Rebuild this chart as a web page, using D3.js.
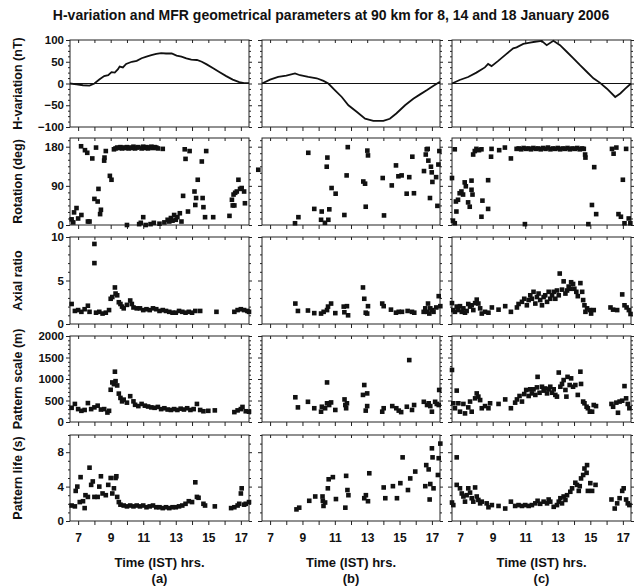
<!DOCTYPE html>
<meta charset="utf-8">
<style>
body { margin: 0; background: #fff; }
svg text { font-family: "Liberation Sans", Arial, sans-serif; font-weight: bold; fill: #111; }
.frame { fill: none; stroke: #222; stroke-width: 1; }
.axis path { display: none; }
.axis line { stroke: #222; }
.axis text { font-size: 11.5px; font-weight: bold; font-family: "Liberation Sans", Arial, sans-serif; }
</style>
<body>
<svg width="644" height="587"></svg>
<script src="https://d3js.org/d3.v7.min.js"></script>
<script>

var title = "H-variation and MFR geometrical parameters at 90 km for 8, 14 and 18 January 2006";
var panelNames = ["(a)", "(b)", "(c)"];
var timeTicks = [7, 9, 11, 13, 15, 17];
var hourTicks = [7, 8, 9, 10, 11, 12, 13, 14, 15, 16, 17];

// H-variation (nT) vs time (IST hrs)
var hVarA = [[6.5,0],[6.9,-2],[7.3,-4],[7.7,-5],[8.0,0],[8.3,9],[8.6,17],[8.85,19],[9.05,26],[9.25,25],[9.45,33],[9.55,39],[9.75,37],[9.95,45],[10.3,50],[10.6,52],[10.9,58],[11.2,62],[11.5,65],[11.8,68],[12.1,70],[12.4,69],[12.75,69],[13.05,64],[13.35,62],[13.65,58],[13.95,55],[14.3,54],[14.6,50],[14.9,44],[15.3,35],[15.7,26],[16.1,17],[16.5,9],[16.9,3],[17.2,1],[17.5,1]];
var hVarB = [[6.5,0],[7.0,9],[7.5,15],[8.0,18],[8.54,23],[8.85,19],[9.36,15],[9.88,12],[10.3,6],[10.6,0],[11.0,-15],[11.43,-31],[11.84,-50],[12.35,-65],[12.87,-81],[13.38,-86],[14.0,-86],[14.4,-81],[14.8,-69],[15.34,-50],[15.85,-35],[16.27,-25],[16.7,-15],[17.1,-5],[17.5,4]];
var hVarC = [[6.5,0],[6.97,8],[7.49,15],[8.0,25],[8.52,37],[8.72,45],[8.93,40],[9.34,52],[9.85,68],[10.26,81],[10.47,83],[10.88,91],[11.29,94],[11.6,96],[12.01,98],[12.32,88],[12.73,98],[13.14,88],[13.55,73],[13.96,58],[14.37,42],[14.78,27],[15.19,12],[15.6,1.5],[16.02,-12],[16.53,-31],[16.84,-23],[17.15,-12],[17.5,0]];

// Rotation (deg)
var rotA = [[6.6,13],[6.7,6],[6.75,29],[6.9,39],[7.0,15],[7.2,23],[7.18,181],[7.42,172],[7.56,166],[7.6,8],[7.7,8],[7.87,153],[8.0,60],[8.1,178],[8.2,54],[8.25,83],[8.35,25],[8.4,35],[8.6,148],[8.62,155],[8.7,170],[8.95,113],[9.05,104],[9.2,174],[9.3,176],[9.4,178],[9.5,177],[9.6,179],[9.7,176],[9.8,178],[9.9,177],[10.0,0],[10.0,179],[10.1,176],[10.2,178],[10.3,177],[10.4,180],[10.5,176],[10.6,178],[10.7,179],[10.75,2],[10.85,5],[10.9,176],[11.0,18],[11.0,180],[11.1,177],[11.15,0],[11.2,179],[11.3,176],[11.4,178],[11.45,2],[11.5,180],[11.6,177],[11.65,5],[11.7,179],[11.8,178],[11.9,176],[12.0,3],[12.2,175],[12.3,6],[12.5,12],[12.6,8],[12.7,16],[12.8,10],[12.9,23],[13.0,12],[13.1,18],[13.25,27],[13.35,8],[13.45,67],[13.55,174],[13.6,152],[13.75,31],[13.85,170],[14.15,77],[14.2,46],[14.25,62],[14.35,104],[14.6,146],[14.65,62],[14.7,41],[14.8,18],[14.87,170],[15.3,18],[16.3,21],[16.45,58],[16.5,45],[16.55,70],[16.6,45],[16.65,74],[16.75,77],[16.85,104],[16.95,83],[17.05,85],[17.2,77],[17.25,50]];
var rotB = [[6.27,127],[8.54,4],[8.75,18],[9.36,166],[9.73,37],[10.19,31],[10.15,12],[10.39,5],[10.6,12],[10.66,36],[10.5,134],[10.54,155],[10.8,85],[11.05,72],[11.59,23],[11.73,114],[11.8,179],[12.76,100],[12.87,95],[12.91,42],[13.01,171],[13.05,160],[13.96,108],[14.04,22],[14.52,91],[14.78,137],[14.93,112],[15.13,114],[15.44,72],[15.6,110],[15.79,157],[15.89,73],[16.51,124],[16.62,162],[16.68,174],[16.74,175],[16.78,148],[16.88,62],[16.94,134],[16.99,121],[17.03,99],[17.26,110],[17.34,44],[17.4,139],[17.46,170]];
var rotC = [[6.5,108],[6.56,10],[6.67,4],[6.67,174],[6.74,54],[6.77,31],[6.87,58],[6.97,73],[7.08,77],[7.18,70],[7.28,98],[7.35,89],[7.49,52],[7.59,42],[7.7,81],[7.76,70],[7.7,102],[7.8,162],[7.9,170],[8.0,175],[8.16,172],[8.31,174],[8.31,19],[8.37,56],[8.72,37],[8.72,103],[8.93,175],[8.9,157],[9.4,172],[9.75,178],[10.12,153],[10.47,175],[10.6,176],[10.75,174],[10.9,177],[10.98,2],[11.05,175],[11.2,176],[11.35,174],[11.5,177],[11.65,175],[11.8,176],[11.95,174],[12.1,177],[12.25,175],[12.4,178],[12.55,174],[12.7,176],[12.85,175],[13.0,177],[13.15,174],[13.3,176],[13.45,175],[13.6,177],[13.75,174],[13.9,176],[14.05,175],[14.2,177],[14.35,174],[14.5,176],[14.6,175],[14.68,162],[14.7,155],[14.88,2],[15.1,46],[15.24,133],[15.36,25],[16.33,175],[16.43,164],[16.6,178],[16.73,25],[16.88,19],[17.0,104],[17.1,4],[17.2,175],[17.36,15],[17.46,4]];

// Axial ratio
var axA = [[6.6,2.3],[6.8,1.5],[7.0,1.6],[7.2,1.4],[7.4,1.7],[7.6,2.1],[7.7,1.4],[8.0,9.2],[8.0,7.0],[8.1,1.3],[8.3,1.4],[8.5,1.2],[8.7,1.3],[8.9,1.6],[9.0,2.9],[9.1,3.1],[9.26,4.2],[9.3,3.5],[9.4,3.3],[9.5,2.5],[9.6,2.3],[9.7,2.0],[9.8,1.8],[10.0,2.2],[10.2,2.7],[10.3,2.3],[10.4,1.9],[10.6,1.8],[10.8,1.8],[11.0,1.6],[11.2,1.7],[11.4,1.6],[11.6,1.8],[11.8,1.7],[12.0,1.5],[12.2,1.6],[12.4,1.5],[12.6,1.4],[12.8,1.3],[13.0,1.3],[13.2,1.5],[13.4,1.4],[13.6,1.3],[13.8,1.4],[14.0,1.3],[14.2,1.5],[14.5,1.5],[15.5,1.4],[16.6,1.4],[16.8,1.6],[17.0,1.7],[17.2,1.6],[17.4,1.5],[17.5,1.4]];
var axB = [[8.56,2.35],[8.72,1.5],[9.34,1.55],[9.73,1.25],[10.15,1.2],[10.31,1.4],[10.52,1.6],[10.58,2.0],[10.77,2.35],[11.03,1.25],[11.55,2.0],[11.59,1.35],[11.75,2.05],[11.82,1.0],[12.74,4.2],[12.82,2.9],[12.91,1.3],[13.0,1.2],[13.05,2.05],[13.93,2.35],[14.02,2.05],[14.47,1.65],[14.78,1.3],[14.95,1.4],[15.15,1.4],[15.5,1.5],[15.77,1.4],[15.91,1.3],[16.49,1.4],[16.59,1.8],[16.7,1.4],[16.76,2.35],[16.84,1.2],[16.9,1.8],[17.0,1.6],[17.1,1.4],[17.27,1.9],[17.42,3.2],[17.52,2.05]];
var axC = [[6.5,2.4],[6.58,1.6],[6.68,1.4],[6.79,2.0],[6.89,1.6],[6.99,2.05],[7.1,1.4],[7.2,1.8],[7.3,1.3],[7.4,1.5],[7.5,2.3],[7.61,2.0],[7.71,2.15],[7.81,1.6],[7.92,2.4],[8.02,2.8],[8.12,2.35],[8.23,1.8],[8.33,1.2],[8.53,1.4],[8.74,1.3],[8.95,1.9],[9.36,1.65],[9.77,2.05],[10.12,1.4],[10.49,1.9],[10.59,2.3],[10.8,2.55],[10.94,2.9],[11.1,2.15],[11.21,2.75],[11.31,3.3],[11.41,2.9],[11.51,3.7],[11.62,2.35],[11.72,3.1],[11.82,3.5],[11.92,2.75],[12.03,2.15],[12.13,3.1],[12.23,3.3],[12.34,2.55],[12.44,3.7],[12.54,2.9],[12.65,3.3],[12.75,3.7],[12.85,2.9],[12.95,3.85],[13.06,3.3],[13.12,5.8],[13.26,3.95],[13.36,4.9],[13.47,3.5],[13.57,3.85],[13.67,4.3],[13.77,4.05],[13.82,4.8],[13.94,4.6],[14.02,4.05],[14.14,3.7],[14.23,3.2],[14.39,4.7],[14.5,3.7],[14.56,2.75],[14.64,2.15],[14.7,1.4],[14.8,1.8],[14.97,1.6],[15.05,1.2],[15.21,1.6],[16.24,1.9],[16.4,1.65],[16.65,1.6],[16.96,3.4],[17.1,2.15],[17.23,1.9],[17.37,1.6],[17.47,1.15]];

// Pattern scale (m)
var scA = [[6.6,330],[6.8,420],[7.0,300],[7.2,260],[7.4,280],[7.6,440],[7.8,300],[8.0,340],[8.2,380],[8.4,290],[8.6,300],[8.8,220],[8.9,260],[9.0,750],[9.1,920],[9.2,880],[9.26,1170],[9.3,950],[9.4,850],[9.5,660],[9.6,560],[9.7,480],[9.8,520],[10.0,450],[10.2,600],[10.4,480],[10.5,400],[10.7,370],[10.9,420],[11.1,380],[11.3,360],[11.5,340],[11.7,330],[11.9,350],[12.1,300],[12.3,320],[12.5,290],[12.7,280],[12.9,300],[13.1,280],[13.3,310],[13.5,290],[13.7,320],[13.9,280],[14.1,300],[14.3,420],[14.5,280],[14.7,250],[15.0,260],[15.4,270],[16.6,230],[16.8,270],[17.0,300],[17.1,350],[17.3,250],[17.5,240]];
var scB = [[8.56,575],[8.72,340],[9.34,470],[9.73,320],[10.15,240],[10.2,355],[10.4,320],[10.52,920],[10.52,435],[10.65,395],[10.77,455],[11.03,280],[11.6,525],[11.65,395],[11.7,320],[11.75,435],[12.74,630],[12.82,860],[12.91,265],[13.0,665],[13.0,370],[13.93,240],[14.02,320],[14.55,370],[14.8,320],[14.95,265],[15.1,230],[15.45,355],[15.6,1440],[15.77,280],[15.9,395],[16.5,470],[16.7,395],[16.8,435],[16.9,370],[17.0,240],[17.2,470],[17.3,420],[17.45,745],[17.42,395]];
var scC = [[6.5,1210],[6.79,730],[6.58,435],[6.68,320],[6.89,435],[6.99,240],[7.2,420],[7.3,200],[7.5,340],[7.61,475],[7.71,240],[7.92,550],[8.02,665],[8.12,590],[8.23,510],[8.33,320],[8.53,370],[8.74,320],[8.84,435],[9.36,420],[9.77,525],[10.12,320],[10.38,450],[10.49,525],[10.65,605],[10.8,475],[10.94,650],[11.06,745],[11.21,605],[11.31,760],[11.41,665],[11.51,760],[11.62,630],[11.72,805],[11.76,1050],[11.88,680],[12.03,820],[12.13,730],[12.23,780],[12.34,665],[12.44,760],[12.54,820],[12.65,680],[12.75,760],[12.85,630],[12.95,590],[13.06,1150],[13.16,820],[13.26,885],[13.36,975],[13.47,745],[13.53,590],[13.6,1050],[13.73,860],[13.82,1015],[13.94,820],[14.08,860],[14.23,630],[14.39,1170],[14.43,885],[14.56,475],[14.64,435],[14.77,355],[14.85,320],[14.97,240],[15.11,240],[15.21,395],[15.35,370],[16.3,420],[16.4,355],[16.6,450],[16.7,215],[16.8,475],[16.96,495],[17.1,835],[17.2,550],[17.3,420],[17.4,320]];

// Pattern life (s)
var lifeA = [[6.6,1.8],[6.8,1.7],[6.85,3.5],[6.95,4.0],[7.1,2.2],[7.15,5.1],[7.3,2.3],[7.4,1.5],[7.45,3.0],[7.6,2.8],[7.7,6.2],[7.8,4.2],[7.9,4.6],[8.0,2.8],[8.2,2.8],[8.3,4.0],[8.4,5.2],[8.5,3.2],[8.7,3.0],[8.85,4.2],[9.0,5.0],[9.1,3.2],[9.2,3.8],[9.3,5.0],[9.35,5.2],[9.4,2.8],[9.5,2.2],[9.6,1.9],[9.8,1.8],[10.0,1.7],[10.2,1.8],[10.4,1.7],[10.6,1.8],[10.8,1.7],[11.0,1.8],[11.2,1.6],[11.4,1.7],[11.6,1.8],[11.8,1.6],[12.0,1.6],[12.2,1.5],[12.4,1.6],[12.6,1.5],[12.8,1.6],[13.0,1.6],[13.2,1.7],[13.4,1.8],[13.6,2.0],[13.8,2.3],[14.0,2.2],[14.2,4.5],[14.3,2.8],[14.4,2.7],[14.7,2.0],[14.8,1.8],[15.4,1.7],[16.4,1.5],[16.6,1.6],[16.8,1.8],[16.9,2.0],[17.0,3.2],[17.05,3.8],[17.2,1.9],[17.3,2.0],[17.5,2.2]];
var lifeB = [[8.63,1.35],[8.8,1.55],[9.42,2.35],[9.79,2.85],[10.24,2.85],[10.26,2.35],[10.3,1.75],[10.4,2.15],[10.57,3.8],[10.62,4.85],[10.88,5.1],[11.07,2.55],[11.65,1.55],[11.7,5.25],[11.78,3.6],[11.84,3.0],[12.82,2.65],[12.92,3.0],[13.05,2.3],[13.13,5.55],[14.02,3.9],[14.12,2.65],[14.59,4.05],[14.84,2.65],[15.05,4.4],[15.19,7.4],[15.52,3.6],[15.66,4.95],[15.97,5.75],[16.59,4.05],[16.65,6.5],[16.8,6.0],[16.86,2.5],[16.9,4.3],[17.0,8.45],[17.04,7.4],[17.1,3.8],[17.37,5.35],[17.42,7.3],[17.52,9.0]];
var lifeC = [[6.5,2.15],[6.58,1.85],[6.79,7.4],[6.79,4.2],[6.99,3.8],[7.1,3.2],[7.2,2.85],[7.3,2.25],[7.4,3.0],[7.5,3.8],[7.61,3.3],[7.71,2.65],[7.81,2.25],[7.92,3.9],[8.02,2.85],[8.12,2.45],[8.23,2.05],[8.33,2.25],[8.63,2.05],[8.74,1.6],[8.95,1.85],[9.36,1.75],[9.77,1.45],[10.12,2.25],[10.38,1.75],[10.59,1.85],[10.8,1.75],[11.0,1.85],[11.21,1.75],[11.41,1.85],[11.62,2.05],[11.76,2.35],[11.92,2.0],[12.13,2.25],[12.34,2.05],[12.44,2.5],[12.54,2.25],[12.75,1.65],[12.95,1.85],[13.06,2.25],[13.16,2.65],[13.26,2.05],[13.36,2.85],[13.47,2.45],[13.57,3.0],[13.77,3.4],[13.88,3.8],[14.08,4.45],[14.18,4.2],[14.29,3.5],[14.35,4.05],[14.43,4.95],[14.56,5.35],[14.64,6.1],[14.8,6.5],[14.77,5.6],[14.85,3.5],[15.0,4.4],[15.11,3.5],[15.32,4.2],[16.3,2.5],[16.5,1.45],[16.65,2.05],[16.8,2.65],[16.96,3.5],[17.05,3.8],[17.2,2.5],[17.3,2.05],[17.4,1.85]];

var rowLabels = ["H-variation (nT)", "Rotation (deg)", "Axial ratio", "Pattern scale (m)", "Pattern life (s)"];
var hTicks = [-100, -50, 0, 50, 100];
var rotTicks = [0, 90, 180];
var axTicks = [0, 5, 10];
var scTicks = [0, 500, 1000, 1500, 2000];
var lifeTicks = [0, 4, 8];

var rows = [
  { domain: [-100, 100], ticks: hTicks, minor: 12.5, line: true, data: [hVarA, hVarB, hVarC] },
  { domain: [0, 200], ticks: rotTicks, minor: 15, data: [rotA, rotB, rotC] },
  { domain: [0, 10], ticks: axTicks, minor: 1, data: [axA, axB, axC] },
  { domain: [0, 2000], ticks: scTicks, minor: 100, data: [scA, scB, scC] },
  { domain: [0, 10], ticks: lifeTicks, minor: 1, data: [lifeA, lifeB, lifeC] }
];

var colX = [[70, 249], [262, 440], [452, 631]];
var rowY = [[40, 127], [138, 225], [237, 324], [336, 422], [435, 521]];

var svg = d3.select("svg");

svg.append("text")
    .attr("x", 331).attr("y", 20)
    .attr("text-anchor", "middle")
    .style("font-size", "14px")
    .text(title);

rows.forEach(function(row, ri) {
  var y = d3.scaleLinear().domain(row.domain).range([rowY[ri][1], rowY[ri][0]]);
  var minorVals = d3.range(row.domain[0], row.domain[1] + 1e-9, row.minor)
      .filter(function(v) { return row.ticks.indexOf(v) < 0; });

  svg.append("text")
      .attr("transform", "translate(22," + (rowY[ri][0] + rowY[ri][1]) / 2 + ") rotate(-90)")
      .attr("text-anchor", "middle")
      .style("font-size", "12.5px")
      .text(rowLabels[ri]);

  colX.forEach(function(cx, ci) {
    var x = d3.scaleLinear().domain([6.5, 17.5]).range(cx);
    var g = svg.append("g");

    // left axis
    var left = g.append("g").attr("class", "axis").attr("transform", "translate(" + cx[0] + ",0)");
    left.call(d3.axisLeft(y).tickValues(row.ticks).tickSize(4).tickPadding(2)
        .tickFormat(ci === 0 ? d3.format("d") : ""));
    left.append("g").call(d3.axisLeft(y).tickValues(minorVals).tickSize(2).tickFormat(""));

    // right axis
    var right = g.append("g").attr("class", "axis").attr("transform", "translate(" + cx[1] + ",0)");
    right.call(d3.axisRight(y).tickValues(row.ticks).tickSize(3).tickFormat(""));
    right.append("g").call(d3.axisRight(y).tickValues(minorVals).tickSize(2).tickFormat(""));

    // top ticks (inward)
    g.append("g").attr("class", "axis").attr("transform", "translate(0," + rowY[ri][0] + ")")
        .call(d3.axisBottom(x).tickValues(hourTicks).tickSize(3).tickFormat(""));

    // bottom ticks (outward)
    var bottom = g.append("g").attr("class", "axis").attr("transform", "translate(0," + rowY[ri][1] + ")");
    bottom.call(d3.axisBottom(x).tickValues(hourTicks).tickSize(4).tickFormat(""));
    if (ri === rows.length - 1) {
      bottom.selectAll(".tick")
          .filter(function(d) { return timeTicks.indexOf(d) >= 0; })
          .append("text")
          .attr("y", 12)
          .attr("dy", "0.71em")
          .attr("fill", "#111")
          .style("font-size", "12px")
          .attr("text-anchor", "middle")
          .text(function(d) { return d; });
    }

    g.append("rect").attr("class", "frame")
        .attr("x", cx[0]).attr("y", rowY[ri][0])
        .attr("width", cx[1] - cx[0]).attr("height", rowY[ri][1] - rowY[ri][0]);

    if (row.line) {
      g.append("line")
          .attr("x1", cx[0]).attr("x2", cx[1])
          .attr("y1", y(0)).attr("y2", y(0))
          .attr("stroke", "#111").attr("stroke-width", 1);
      g.append("path")
          .datum(row.data[ci])
          .attr("fill", "none")
          .attr("stroke", "#111")
          .attr("stroke-width", 1.8)
          .attr("d", d3.line().x(function(d) { return x(d[0]); }).y(function(d) { return y(d[1]); }));
    } else {
      var s = 4.6;
      g.selectAll(".pt")
          .data(row.data[ci])
          .enter().append("rect")
          .attr("x", function(d) { return x(d[0]) - s / 2; })
          .attr("y", function(d) { return y(d[1]) - s / 2; })
          .attr("width", s).attr("height", s)
          .attr("fill", "#111");
    }

    if (ri === rows.length - 1) {
      svg.append("text")
          .attr("x", (cx[0] + cx[1]) / 2).attr("y", 567)
          .attr("text-anchor", "middle")
          .style("font-size", "13px")
          .text("Time (IST) hrs.");
      svg.append("text")
          .attr("x", (cx[0] + cx[1]) / 2).attr("y", 583)
          .attr("text-anchor", "middle")
          .style("font-size", "13px")
          .text(panelNames[ci]);
    }
  });
});

</script>
</body>
